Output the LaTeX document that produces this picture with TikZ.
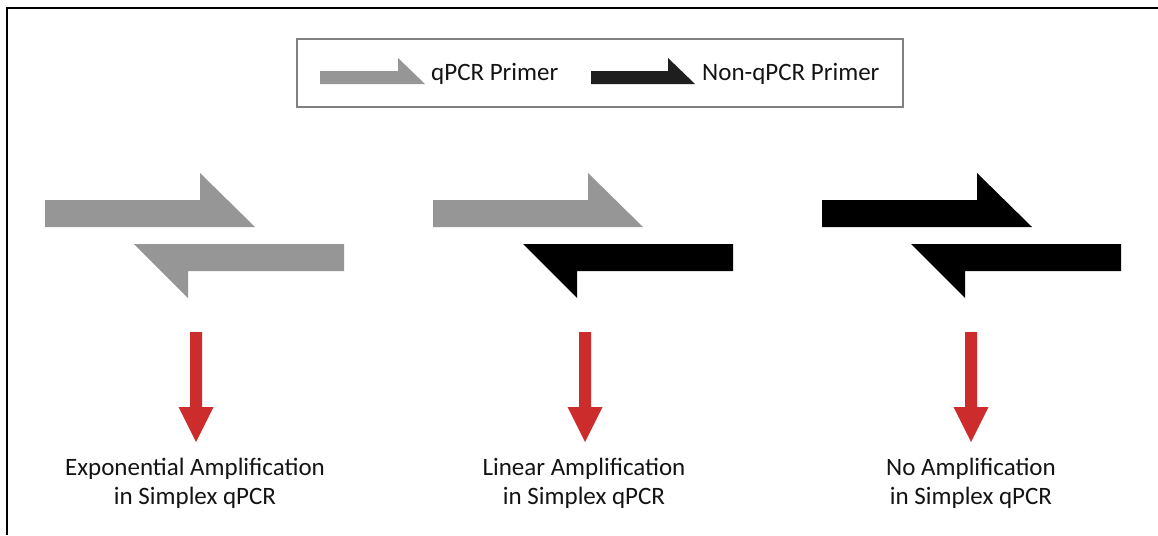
\documentclass[tikz,border=0pt]{standalone}
\usepackage{fontspec}
\setmainfont{Carlito}
\definecolor{pgray}{RGB}{150,150,150}
\definecolor{legblack}{RGB}{30,30,30}
\definecolor{ared}{RGB}{205,44,44}
\definecolor{boxgray}{RGB}{128,128,128}
\newcommand\fwdprimer[3]{\fill[#3] (#1,#2) -- ++(155,0) -- ++(0,-27) -- ++(55,54) -- ++(-210,0) -- cycle;}
\newcommand\revprimer[3]{\fill[#3] (#1,#2) -- ++(-210,0) -- ++(54,54) -- ++(0,-27) -- ++(156,0) -- cycle;}
\newcommand\redarr[1]{\fill[ared] (#1-6,332) -- (#1+6,332) -- (#1+6,407) -- (#1+17.5,407) -- (#1,442) -- (#1-17.5,407) -- (#1-6,407) -- cycle;}
\begin{document}
\begin{tikzpicture}[x=1pt,y=-1pt,
  lbl/.style={font=\fontsize{25}{30}\selectfont, inner sep=0pt, anchor=base, text=black!92},
  leg/.style={font=\fontsize{25}{30}\selectfont, inner sep=0pt, anchor=base west, text=black!92},
  legbox/.style={draw=boxgray, line width=1.5pt, minimum width=606pt, minimum height=68pt, inner sep=0pt}]
\useasboundingbox (0,0) rectangle (1158,535);
\fill[white] (0,0) rectangle (1158,535);
% frame
\draw[line width=2pt] (7,535) -- (7,8) -- (1158,8);
% legend
\node[legbox] (legend) at (600,73) {};
\fill[pgray] (320,71) -- (398,71) -- (398,58) -- (425,84) -- (320,84) -- cycle;
\node[leg] (lq) at (431,80) {qPCR Primer};
\fill[legblack] (591,71) -- (668,71) -- (668,58) -- (695,84) -- (591,84) -- cycle;
\node[leg] (ln) at (702,80) {Non-qPCR Primer};
% primer pairs
\fwdprimer{45}{200}{pgray}
\revprimer{344}{244}{pgray}
\fwdprimer{433}{200}{pgray}
\revprimer{733}{244}{black}
\fwdprimer{822}{200}{black}
\revprimer{1121}{244}{black}
% red arrows
\redarr{196}
\redarr{585}
\redarr{971}
% labels
\node[lbl] (t1a) at (195,475) {Exponential Amplification};
\node[lbl] (t1b) at (195,504) {in Simplex qPCR};
\node[lbl] (t2a) at (584,475) {Linear Amplification};
\node[lbl] (t2b) at (584,504) {in Simplex qPCR};
\node[lbl] (t3a) at (971,475) {No Amplification};
\node[lbl] (t3b) at (971,504) {in Simplex qPCR};
\end{tikzpicture}
\end{document}
